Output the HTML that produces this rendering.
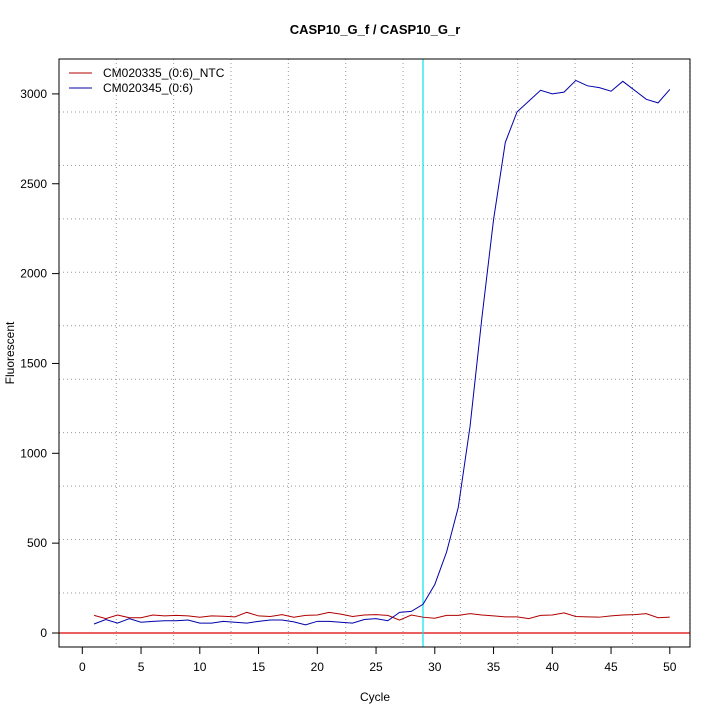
<!DOCTYPE html>
<html><head><meta charset="utf-8"><style>body{margin:0;background:#fff}svg{display:block}text{font-family:"Liberation Sans",sans-serif;font-size:12px}</style></head>
<body>
<svg id="s" width="720" height="720" xmlns="http://www.w3.org/2000/svg">
<rect width="720" height="720" fill="#fff"/>
<g id="grid" stroke="#999" stroke-dasharray="1,3" stroke-width="1"></g>
<line x1="59" y1="633" x2="690" y2="633" stroke="#d00" stroke-width="1.2"/>
<line x1="423" y1="59" x2="423" y2="647" stroke="#00e5ee" stroke-width="1.2"/>
<polyline id="red" fill="none" stroke="#b00000" stroke-width="1"/>
<polyline id="blue" fill="none" stroke="#0000aa" stroke-width="1"/>
<rect x="59" y="59" width="631" height="588" fill="none" stroke="#000"/>
<g id="ax" stroke="#000"></g>
<g id="lab"></g>
<text x="375" y="34" text-anchor="middle" style="font-weight:bold;font-size:13px">CASP10_G_f / CASP10_G_r</text>
<text x="375" y="701" text-anchor="middle">Cycle</text>
<text x="14" y="353" text-anchor="middle" transform="rotate(-90 14 353)">Fluorescent</text>
<line x1="69" y1="73" x2="92" y2="73" stroke="#b00000"/>
<line x1="69" y1="88" x2="92" y2="88" stroke="#0000aa"/>
<text x="103" y="77">CM020335_(0:6)_NTC</text>
<text x="103" y="92">CM020345_(0:6)</text>
</svg>
<script>
const NS="http://www.w3.org/2000/svg";
function X(c){return 82.3+c*11.75}function Y(v){return 633-v*0.1797}
function el(p,t,a,txt){const e=document.createElementNS(NS,t);for(const k in a)e.setAttribute(k,a[k]);if(txt!=null)e.textContent=txt;document.getElementById(p).appendChild(e);}
for(let i=0;i<11;i++){const x=116.3+i*57.35;el("grid","line",{x1:x,y1:59,x2:x,y2:647});}
for(let i=0;i<10;i++){const y=593-i*53.45;el("grid","line",{x1:59,y1:y,x2:690,y2:y});}
for(let c=0;c<=50;c+=5){el("ax","line",{x1:X(c),y1:647,x2:X(c),y2:654});el("lab","text",{x:X(c),y:671,"text-anchor":"middle"},c);}
for(let v=0;v<=3000;v+=500){el("ax","line",{x1:52,y1:Y(v),x2:59,y2:Y(v)});el("lab","text",{x:47,y:Y(v)+4,"text-anchor":"end"},v);}
const red=[98,80,100,85,85,100,95,98,95,88,95,93,90,115,95,92,102,88,98,100,115,105,92,100,102,98,72,100,88,82,98,98,108,100,95,90,90,80,98,100,112,92,90,88,95,100,102,108,85,88];
const blue=[50,75,55,80,60,65,68,68,72,55,55,65,60,55,65,72,72,62,45,65,65,60,55,75,80,68,115,120,160,270,450,700,1150,1750,2300,2730,2900,2960,3020,3000,3010,3075,3045,3035,3015,3070,3020,2970,2950,3025];
document.getElementById("red").setAttribute("points",red.map((v,i)=>X(i+1)+","+Y(v)).join(" "));
document.getElementById("blue").setAttribute("points",blue.map((v,i)=>X(i+1)+","+Y(v)).join(" "));
</script>
</body></html>
